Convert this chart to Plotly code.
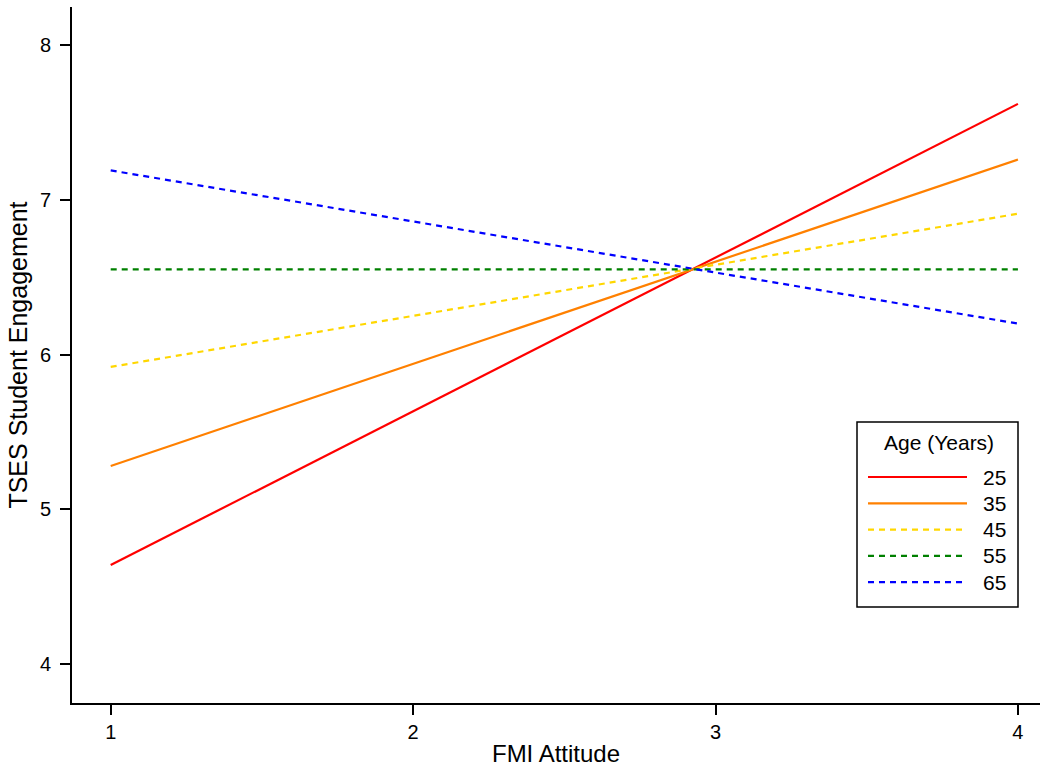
import plotly.graph_objects as go

# Data
x_points = [1, 4]
ages = ["25", "35", "45", "55", "65"]
y_at_1 = [4.64, 5.28, 5.92, 6.55, 7.19]
y_at_4 = [7.62, 7.26, 6.91, 6.55, 6.20]
colors = ["#FF0000", "#FF8000", "#FFD700", "#008000", "#0000FF"]
dashes = ["solid", "solid", "6px,5px", "6px,5px", "6px,5px"]
x_ticks = [1, 2, 3, 4]
y_ticks = [4, 5, 6, 7, 8]
legend_title = "Age (Years)"

FONT = "Liberation Sans, Arial, sans-serif"

W, H = 1045, 768
ml, mr, mt, mb = 72, 5, 7, 65
PW, PH = W - ml - mr, H - mt - mb


def px_x(px):
    return (px - ml) / PW


def px_y(py):
    return (H - mb - py) / PH


fig = go.Figure()
for age, a, b, c, d in zip(ages, y_at_1, y_at_4, colors, dashes):
    fig.add_trace(go.Scatter(
        x=x_points, y=[a, b], mode="lines", name=age, showlegend=False,
        line=dict(color=c, width=2.2, dash=d),
    ))

# Legend (drawn as layout decoration in paper coordinates)
shapes = [dict(type="rect", xref="paper", yref="paper",
               x0=px_x(857), x1=px_x(1018), y0=px_y(607), y1=px_y(422),
               line=dict(color="black", width=1.5), fillcolor="white", layer="above")]
annotations = [dict(text=legend_title, xref="paper", yref="paper",
                    x=px_x(939), y=px_y(443), showarrow=False,
                    xanchor="center", yanchor="middle",
                    font=dict(size=21, family=FONT, color="black"))]
for i, (age, c, d) in enumerate(zip(ages, colors, dashes)):
    yy = px_y(477 + 26.3 * i)
    shapes.append(dict(type="line", xref="paper", yref="paper",
                       x0=px_x(868), x1=px_x(967), y0=yy, y1=yy,
                       line=dict(color=c, width=2.2, dash=d), layer="above"))
    annotations.append(dict(text=age, xref="paper", yref="paper",
                            x=px_x(981), y=yy, showarrow=False,
                            xanchor="left", yanchor="middle",
                            font=dict(size=21, family=FONT, color="black")))

fig.update_layout(
    width=W, height=H,
    margin=dict(l=ml, r=mr, t=mt, b=mb),
    paper_bgcolor="white", plot_bgcolor="white",
    font=dict(family=FONT, color="black"),
    showlegend=False,
    shapes=shapes,
    annotations=annotations,
    xaxis=dict(
        range=[0.872, 4.073], tickvals=x_ticks, ticktext=[str(v) for v in x_ticks],
        showgrid=False, zeroline=False, showline=True, linecolor="black", linewidth=2,
        ticks="outside", ticklen=10, tickwidth=1.5, tickcolor="black",
        tickfont=dict(size=20, family=FONT), automargin=False,
        title=dict(text="FMI Attitude", font=dict(size=24, family=FONT), standoff=3),
    ),
    yaxis=dict(
        range=[3.748, 8.246], tickvals=y_ticks, ticktext=[str(v) for v in y_ticks],
        showgrid=False, zeroline=False, showline=True, linecolor="black", linewidth=2,
        ticks="outside", ticklen=10, tickwidth=1.5, tickcolor="black",
        tickfont=dict(size=20, family=FONT), ticklabelstandoff=5, automargin=False,
        title=dict(text="TSES Student Engagement", font=dict(size=25, family=FONT), standoff=5),
    ),
)

fig.write_html("out.html", config={"displayModeBar": False},
               post_script="document.body.style.margin='0';")
